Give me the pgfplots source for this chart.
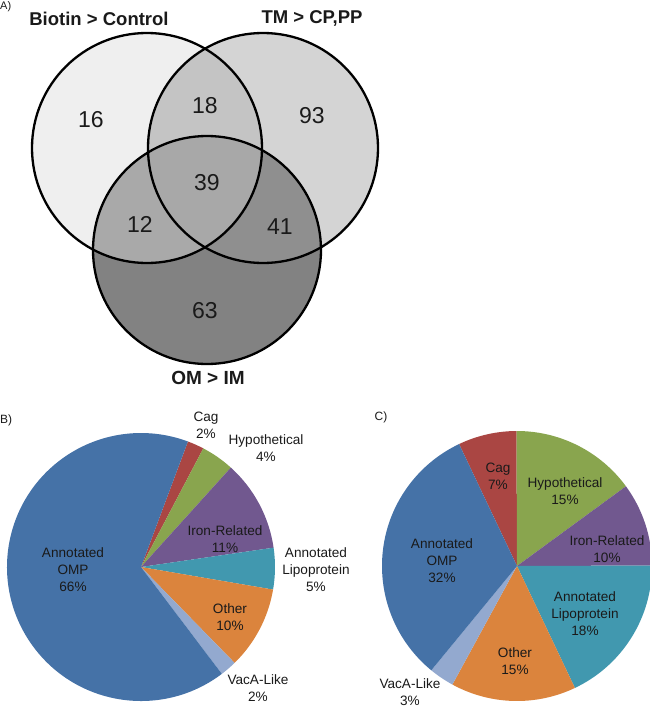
\documentclass[border=0pt]{standalone}
\usepackage{pgfplots}
\pgfplotsset{compat=1.18}
\usepackage{fontspec}
\setmainfont{Liberation Sans}
\definecolor{vA}{HTML}{EFEFEF}
\definecolor{vB}{HTML}{D4D4D4}
\definecolor{vAB}{HTML}{C4C4C4}
\definecolor{vC}{HTML}{828282}
\definecolor{vAC}{HTML}{A9A9A9}
\definecolor{vBC}{HTML}{8F8F8F}
\definecolor{vABC}{HTML}{A8A8A8}
\definecolor{cOMP}{HTML}{4572A7}
\definecolor{cCag}{HTML}{AA4643}
\definecolor{cHyp}{HTML}{89A54E}
\definecolor{cIron}{HTML}{71588F}
\definecolor{cLipo}{HTML}{4198AF}
\definecolor{cOther}{HTML}{DB843D}
\definecolor{cVac}{HTML}{93A9CF}
\definecolor{txt}{HTML}{1A1A1A}
\begin{document}
\begin{tikzpicture}
\begin{axis}[width=650bp,height=709bp,scale only axis,
  xmin=0,xmax=650,ymin=0,ymax=709,y dir=reverse,hide axis,clip=false]
% ---------- Venn diagram ----------
\fill[vA] (axis cs:147,148) circle[radius=115];
\fill[vB] (axis cs:263,148) circle[radius=115];
\begin{scope}
 \clip (axis cs:147,148) circle[radius=115];
 \fill[vAB] (axis cs:263,148) circle[radius=115];
\end{scope}
\fill[vC] (axis cs:207,250) circle[radius=114];
\begin{scope}
 \clip (axis cs:207,250) circle[radius=114];
 \fill[vAC] (axis cs:147,148) circle[radius=115];
 \fill[vBC] (axis cs:263,148) circle[radius=115];
 \clip (axis cs:147,148) circle[radius=115];
 \fill[vABC] (axis cs:263,148) circle[radius=115];
\end{scope}
\draw[black,line width=2.3bp] (axis cs:147,148) circle[radius=115];
\draw[black,line width=2.3bp] (axis cs:263,148) circle[radius=115];
\draw[black,line width=2.3bp] (axis cs:207,250) circle[radius=114];
\begin{scope}[every node/.style={font=\fontsize{23bp}{27bp}\selectfont,text=txt}]
\node at (axis cs:91,120) {16};
\node at (axis cs:205,106) {18};
\node at (axis cs:312,116) {93};
\node at (axis cs:207,183) {39};
\node at (axis cs:140,224) {12};
\node at (axis cs:280,227) {41};
\node at (axis cs:205,311) {63};
\end{scope}
\node[font=\bfseries\fontsize{18.5bp}{22bp}\selectfont,text=txt] at (axis cs:99,19) {Biotin > Control};
\node[font=\bfseries\fontsize{18.5bp}{22bp}\selectfont,text=txt] at (axis cs:312,18) {TM > CP,PP};
\node[font=\bfseries\fontsize{19bp}{22bp}\selectfont,text=txt] at (axis cs:208,378) {OM > IM};
\node[font=\fontsize{11bp}{13bp}\selectfont,text=txt,anchor=west,inner sep=0pt] at (axis cs:0,7) {A)};
% ---------- Pie B (percent values) ----------
\fill[cCag]   (axis cs:141,567) -- ++(69.5:134bp)  arc[start angle=69.5,  delta angle=-7.2,  radius=134bp] -- cycle; % 2
\fill[cHyp]   (axis cs:141,567) -- ++(62.3:134bp)  arc[start angle=62.3,  delta angle=-14.4, radius=134bp] -- cycle; % 4
\fill[cIron]  (axis cs:141,567) -- ++(47.9:134bp)  arc[start angle=47.9,  delta angle=-39.6, radius=134bp] -- cycle; % 11
\fill[cLipo]  (axis cs:141,567) -- ++(8.3:134bp)   arc[start angle=8.3,   delta angle=-18,   radius=134bp] -- cycle; % 5
\fill[cOther] (axis cs:141,567) -- ++(-9.7:134bp)  arc[start angle=-9.7,  delta angle=-36,   radius=134bp] -- cycle; % 10
\fill[cVac]   (axis cs:141,567) -- ++(-45.7:134bp) arc[start angle=-45.7, delta angle=-7.2,  radius=134bp] -- cycle; % 2
\fill[cOMP]   (axis cs:141,567) -- ++(-52.9:134bp) arc[start angle=-52.9, delta angle=-237.6,radius=134bp] -- cycle; % 66
\begin{scope}[every node/.style={font=\fontsize{13.6bp}{17bp}\selectfont,text=txt,align=center,inner sep=0pt}]
\node at (axis cs:73,570)  {Annotated\\OMP\\66\%};
\node at (axis cs:206,425) {Cag\\2\%};
\node at (axis cs:266,448) {Hypothetical\\4\%};
\node at (axis cs:225,539) {Iron-Related\\11\%};
\node at (axis cs:316,570) {Annotated\\Lipoprotein\\5\%};
\node at (axis cs:230,617) {Other\\10\%};
\node at (axis cs:258,688) {VacA-Like\\2\%};
\end{scope}
\node[font=\fontsize{12bp}{14bp}\selectfont,text=txt,anchor=west,inner sep=0pt] at (axis cs:0,420) {B)};
% ---------- Pie C (percent values) ----------
\fill[cCag]   (axis cs:517,566) -- ++(115.4:135bp)  arc[start angle=115.4,  delta angle=-25.2, radius=135bp] -- cycle; % 7
\fill[cHyp]   (axis cs:517,566) -- ++(90.2:135bp)   arc[start angle=90.2,   delta angle=-54,   radius=135bp] -- cycle; % 15
\fill[cIron]  (axis cs:517,566) -- ++(36.2:135bp)   arc[start angle=36.2,   delta angle=-36,   radius=135bp] -- cycle; % 10
\fill[cLipo]  (axis cs:517,566) -- ++(0.2:135bp)    arc[start angle=0.2,    delta angle=-64.8, radius=135bp] -- cycle; % 18
\fill[cOther] (axis cs:517,566) -- ++(-64.6:135bp)  arc[start angle=-64.6,  delta angle=-54,   radius=135bp] -- cycle; % 15
\fill[cVac]   (axis cs:517,566) -- ++(-118.6:135bp) arc[start angle=-118.6, delta angle=-10.8, radius=135bp] -- cycle; % 3
\fill[cOMP]   (axis cs:517,566) -- ++(-129.4:135bp) arc[start angle=-129.4, delta angle=-115.2,radius=135bp] -- cycle; % 32
\begin{scope}[every node/.style={font=\fontsize{13.6bp}{17bp}\selectfont,text=txt,align=center,inner sep=0pt}]
\node at (axis cs:442,561) {Annotated\\OMP\\32\%};
\node at (axis cs:498,476) {Cag\\7\%};
\node at (axis cs:565,491) {Hypothetical\\15\%};
\node at (axis cs:607,549) {Iron-Related\\10\%};
\node at (axis cs:585,614) {Annotated\\Lipoprotein\\18\%};
\node at (axis cs:515,661) {Other\\15\%};
\node at (axis cs:410,692) {VacA-Like\\3\%};
\end{scope}
\node[font=\fontsize{12bp}{14bp}\selectfont,text=txt] at (axis cs:381,417) {C)};
\end{axis}
\pgfresetboundingbox
\path[use as bounding box] (current axis.south west) rectangle (current axis.north east);
\end{tikzpicture}
\end{document}
